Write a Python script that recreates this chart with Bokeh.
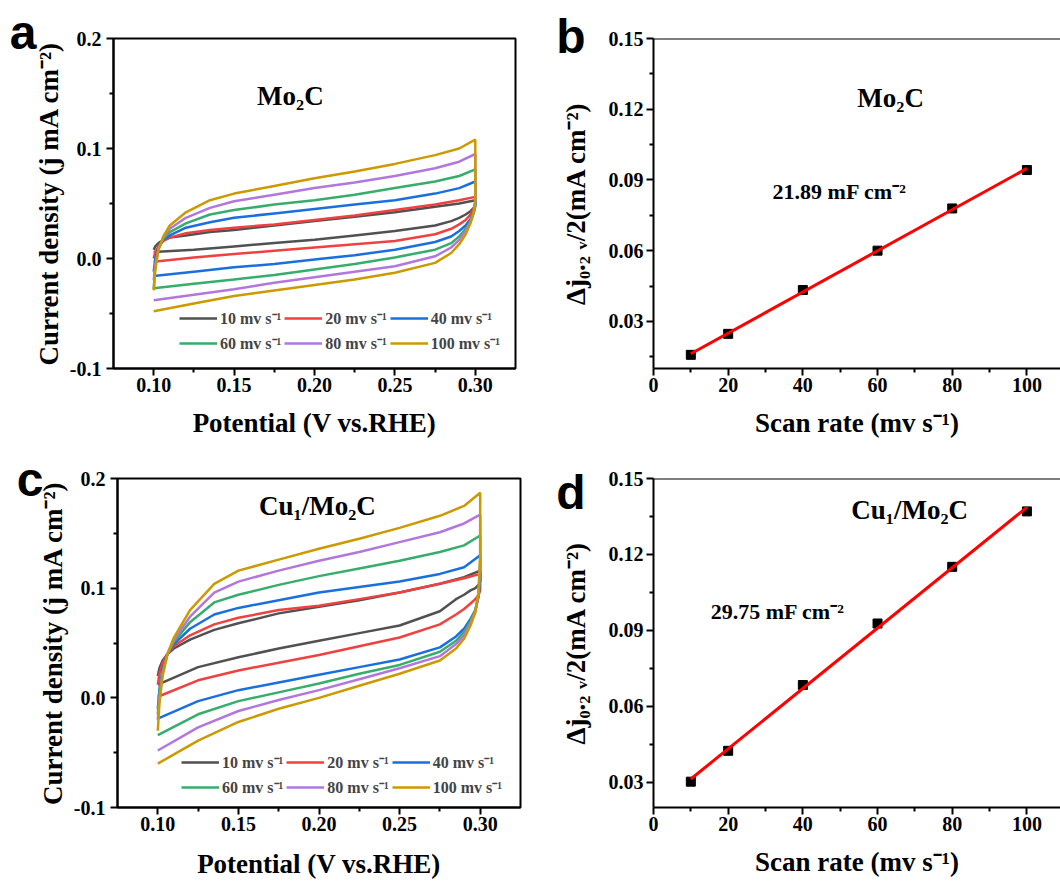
import numpy as np
from bokeh.plotting import figure
from bokeh.layouts import column, row
from bokeh.models import (FixedTicker, PrintfTickFormatter, Label, Span, Legend, LegendItem,
                          LinearAxis, CustomJSTickFormatter)
from bokeh.embed import file_html
from bokeh.resources import INLINE

# ---------------- data ----------------
RATES = [10, 20, 40, 60, 80, 100]
RATE_LABELS = ["10 mv s⁻¹", "20 mv s⁻¹", "40 mv s⁻¹", "60 mv s⁻¹", "80 mv s⁻¹", "100 mv s⁻¹"]
COLORS = ["#515151", "#F14040", "#1A6FDF", "#37AD6B", "#B177DE", "#CC9900"]

# potential grid of the anodic (forward) and cathodic (reverse) sweeps
UP_X = [0.100, 0.101, 0.103, 0.106, 0.110, 0.120, 0.135, 0.150, 0.175, 0.200, 0.225, 0.250, 0.275, 0.290, 0.300]
DN_X = [0.300, 0.299, 0.297, 0.294, 0.290, 0.285, 0.275, 0.250, 0.225, 0.200, 0.175, 0.150, 0.125, 0.100]

# Mo2C CV current densities (one list per scan rate, order of RATES)
MO2C_UP = [
    [0.008, 0.011, 0.014, 0.017, 0.019, 0.021, 0.024, 0.026, 0.030, 0.034, 0.038, 0.042, 0.047, 0.050, 0.053],
    [0.000, 0.006, 0.011, 0.016, 0.019, 0.023, 0.026, 0.028, 0.031, 0.035, 0.039, 0.044, 0.049, 0.053, 0.056],
    [-0.012, 0.000, 0.010, 0.017, 0.021, 0.028, 0.033, 0.037, 0.041, 0.045, 0.049, 0.053, 0.059, 0.064, 0.070],
    [-0.028, -0.006, 0.009, 0.018, 0.024, 0.032, 0.040, 0.044, 0.049, 0.053, 0.058, 0.064, 0.070, 0.075, 0.081],
    [-0.020, -0.006, 0.009, 0.019, 0.027, 0.037, 0.046, 0.052, 0.058, 0.064, 0.069, 0.075, 0.082, 0.088, 0.095],
    [-0.029, -0.010, 0.008, 0.020, 0.030, 0.042, 0.053, 0.059, 0.066, 0.073, 0.079, 0.086, 0.094, 0.100, 0.108],
]
MO2C_DN = [
    [0.050, 0.046, 0.043, 0.040, 0.037, 0.034, 0.030, 0.025, 0.021, 0.017, 0.014, 0.011, 0.008, 0.006],
    [0.050, 0.045, 0.040, 0.035, 0.031, 0.027, 0.022, 0.016, 0.013, 0.010, 0.007, 0.004, 0.001, -0.003],
    [0.048, 0.042, 0.036, 0.030, 0.025, 0.020, 0.015, 0.008, 0.003, -0.001, -0.005, -0.008, -0.012, -0.016],
    [0.048, 0.041, 0.034, 0.027, 0.020, 0.014, 0.008, 0.001, -0.005, -0.010, -0.015, -0.019, -0.023, -0.027],
    [0.050, 0.042, 0.033, 0.025, 0.017, 0.010, 0.002, -0.007, -0.012, -0.017, -0.022, -0.028, -0.033, -0.038],
    [0.055, 0.042, 0.032, 0.022, 0.013, 0.005, -0.004, -0.013, -0.019, -0.024, -0.029, -0.034, -0.041, -0.048],
]

# Cu1/Mo2C CV current densities
CU_UP = [
    [0.020, 0.027, 0.034, 0.040, 0.045, 0.053, 0.062, 0.068, 0.077, 0.083, 0.089, 0.096, 0.104, 0.110, 0.116],
    [0.012, 0.022, 0.032, 0.040, 0.047, 0.057, 0.067, 0.073, 0.080, 0.084, 0.090, 0.096, 0.104, 0.109, 0.113],
    [-0.010, 0.008, 0.026, 0.040, 0.049, 0.063, 0.076, 0.082, 0.089, 0.096, 0.101, 0.106, 0.113, 0.119, 0.130],
    [-0.015, 0.005, 0.024, 0.040, 0.051, 0.069, 0.087, 0.094, 0.103, 0.111, 0.118, 0.125, 0.133, 0.139, 0.148],
    [-0.020, 0.000, 0.022, 0.040, 0.053, 0.074, 0.096, 0.106, 0.116, 0.125, 0.133, 0.142, 0.151, 0.159, 0.167],
    [-0.030, -0.005, 0.020, 0.040, 0.055, 0.080, 0.104, 0.116, 0.126, 0.136, 0.145, 0.155, 0.166, 0.175, 0.187],
]
CU_DN = [
    [0.106, 0.103, 0.100, 0.098, 0.094, 0.090, 0.079, 0.066, 0.059, 0.052, 0.045, 0.037, 0.028, 0.012],
    [0.098, 0.094, 0.090, 0.086, 0.081, 0.076, 0.067, 0.055, 0.047, 0.039, 0.032, 0.025, 0.016, 0.001],
    [0.110, 0.092, 0.080, 0.072, 0.063, 0.056, 0.046, 0.035, 0.028, 0.021, 0.014, 0.007, -0.003, -0.019],
    [0.118, 0.094, 0.080, 0.070, 0.060, 0.052, 0.042, 0.030, 0.022, 0.013, 0.005, -0.003, -0.015, -0.034],
    [0.125, 0.095, 0.079, 0.068, 0.057, 0.049, 0.038, 0.027, 0.017, 0.007, -0.002, -0.012, -0.027, -0.048],
    [0.130, 0.097, 0.078, 0.066, 0.054, 0.045, 0.034, 0.022, 0.011, 0.000, -0.010, -0.022, -0.039, -0.060],
]

# half current-density difference at 0.2 V vs scan rate
MO2C_DJ = [0.0158, 0.0247, 0.0433, 0.0600, 0.0779, 0.0942]
CU_DJ = [0.0302, 0.0424, 0.0684, 0.0927, 0.1151, 0.1370]

CV_X_TICKS = [0.10, 0.15, 0.20, 0.25, 0.30]
CV_X_MINOR = [0.125, 0.175, 0.225, 0.275]
CV_Y_TICKS = [-0.1, 0.0, 0.1, 0.2]
CV_Y_MINOR = [-0.05, 0.05, 0.15]
SR_X_TICKS = [0, 20, 40, 60, 80, 100]
SR_X_MINOR = [10, 30, 50, 70, 90]
SR_Y_TICKS = [0.03, 0.06, 0.09, 0.12, 0.15]
SR_Y_MINOR = [0.015, 0.045, 0.075, 0.105, 0.135]

SERIF = "Liberation Serif"
SANS = "Liberation Sans"


def make_fig(w, h, xr, yr, lb, rb, tb, bb):
    p = figure(width=w, height=h, x_range=xr, y_range=yr, output_backend="svg",
               toolbar_location=None, min_border_left=lb, min_border_right=rb,
               min_border_top=tb, min_border_bottom=bb)
    p.xgrid.visible = False
    p.ygrid.visible = False
    p.background_fill_color = "white"
    p.border_fill_color = "white"
    for ax in (p.xaxis[0], p.yaxis[0]):
        ax.axis_line_width = 2
        ax.axis_line_color = "black"
        ax.major_tick_line_width = 2
        ax.minor_tick_line_width = 2
        ax.major_tick_line_color = "black"
        ax.minor_tick_line_color = "black"
        ax.major_tick_out = 7
        ax.major_tick_in = 0
        ax.minor_tick_out = 4
        ax.minor_tick_in = 0
        ax.major_label_text_font = SERIF
        ax.major_label_text_font_style = "bold"
        ax.major_label_text_font_size = "20px"
        ax.major_label_text_color = "black"
        ax.axis_label_text_font = SERIF
        ax.axis_label_text_font_style = "bold"
        ax.axis_label_text_font_size = "27px"
        ax.axis_label_text_color = "black"
    p.xaxis[0].major_label_standoff = 2
    return p


def add_letter(p, text, tick_y, standoff, line_h):
    # panel letter drawn as the single tick label of an extra, invisible left axis
    ax = LinearAxis(ticker=FixedTicker(ticks=[tick_y], minor_ticks=[]),
                    formatter=CustomJSTickFormatter(args=dict(t=text), code="return t"),
                    axis_line_color=None, major_tick_line_color=None,
                    minor_tick_line_color=None, major_tick_out=0, major_tick_in=0,
                    minor_tick_out=0, minor_tick_in=0, major_label_standoff=standoff,
                    major_label_text_font=SANS, major_label_text_font_style="bold",
                    major_label_text_font_size="48px", major_label_text_color="black",
                    major_label_text_line_height=line_h)
    p.add_layout(ax, "left")


def cv_panel(w, h, lb, rb, tb, bb, ups, dns, name, name_xy, leg_loc, x_title_standoff):
    p = make_fig(w, h, (0.075, 0.325), (-0.1, 0.2), lb, rb, tb, bb)
    p.outline_line_color = "black"
    p.outline_line_width = 2
    p.xaxis[0].ticker = FixedTicker(ticks=CV_X_TICKS, minor_ticks=CV_X_MINOR)
    p.yaxis[0].ticker = FixedTicker(ticks=CV_Y_TICKS, minor_ticks=CV_Y_MINOR)
    p.xaxis[0].formatter = PrintfTickFormatter(format="%.2f")
    p.yaxis[0].formatter = PrintfTickFormatter(format="%.1f")
    p.xaxis[0].axis_label_standoff = x_title_standoff
    p.yaxis[0].major_label_standoff = 5
    p.yaxis[0].axis_label_standoff = 3
    p.xaxis[0].axis_label = "Potential (V vs.RHE)"
    p.yaxis[0].axis_label = "Current density (j mA cm⁻²)"
    items = []
    for up, dn, col, lab in zip(ups, dns, COLORS, RATE_LABELS):
        r = p.line(UP_X + DN_X, up + dn, line_color=col, line_width=2.5)
        items.append(LegendItem(label=lab, renderers=[r]))
    leg = Legend(items=items, location=leg_loc, orientation="horizontal", nrows=2,
                 label_text_font=SERIF, label_text_font_style="bold", label_text_font_size="16px",
                 glyph_width=38, glyph_height=20, label_height=20, label_standoff=3,
                 spacing=3, padding=2, margin=0, border_line_color=None,
                 background_fill_alpha=0)
    p.add_layout(leg)
    p.add_layout(Label(x=name_xy[0], y=name_xy[1], text=name, text_font=SERIF,
                       text_font_style="bold", text_font_size="27px", text_align="center",
                       text_baseline="middle", text_color="black"))
    return p


def sr_panel(w, h, lb, rb, tb, bb, ylo, dj, name, name_xy, cap, cap_xy, x_title_standoff):
    p = make_fig(w, h, (0, 109), (ylo, 0.15), lb, rb, tb, bb)
    p.outline_line_color = None
    p.add_layout(Span(location=0.15, dimension="width", line_color="black", line_width=2))
    p.xaxis[0].ticker = FixedTicker(ticks=SR_X_TICKS, minor_ticks=SR_X_MINOR)
    p.yaxis[0].ticker = FixedTicker(ticks=SR_Y_TICKS, minor_ticks=SR_Y_MINOR)
    p.xaxis[0].formatter = PrintfTickFormatter(format="%d")
    p.yaxis[0].formatter = PrintfTickFormatter(format="%.2f")
    p.xaxis[0].axis_label_standoff = x_title_standoff
    p.yaxis[0].major_label_standoff = 3
    p.yaxis[0].axis_label_standoff = 15
    p.xaxis[0].axis_label = "Scan rate (mv s⁻¹)"
    p.yaxis[0].axis_label = "Δj₀.₂ ᵥ/2(mA cm⁻²)"
    p.scatter(RATES, dj, marker="square", size=9, color="black")
    k, b = np.polyfit(RATES, dj, 1)
    fx = [RATES[0], RATES[-1]]
    p.line(fx, [k * fx[0] + b, k * fx[1] + b], line_color="#FF0000", line_width=3)
    p.add_layout(Label(x=name_xy[0], y=name_xy[1], text=name, text_font=SERIF,
                       text_font_style="bold", text_font_size="27px", text_align="center",
                       text_baseline="middle", text_color="black"))
    p.add_layout(Label(x=cap_xy[0], y=cap_xy[1], text=cap, text_font=SERIF,
                       text_font_style="bold", text_font_size="22px", text_align="left",
                       text_baseline="middle", text_color="black"))
    return p


pa = cv_panel(533, 440, 113, 18, 33, 72, MO2C_UP, MO2C_DN, "Mo₂C", (0.185, 0.148), (66, 14), 13)
add_letter(pa, "a\n\u00a0", 0.2, -6, 0.22)
pb = sr_panel(527, 440, 120, 0, 38, 69, 0.01, MO2C_DJ, "Mo₂C", (63.5, 0.1248),
              "21.89 mF cm⁻²", (31.9, 0.0853), 13)
add_letter(pb, "b\n\u00a0", 0.15, -28, 0.8)
pc = cv_panel(533, 441, 117, 13, 35, 72, CU_UP, CU_DN, "Cu₁/Mo₂C", (0.199, 0.175), (64, 9), 15)
add_letter(pc, "c\n\u00a0", 0.2, -9, 0.92)
pd = sr_panel(527, 441, 120, 0, 38, 71, 0.02, CU_DJ, "Cu₁/Mo₂C", (68.6, 0.1375),
              "29.75 mF cm⁻²", (15.3, 0.0975), 13)
add_letter(pd, "d\n\u00a0", 0.15, -28, 1.4)

layout = column(row(pa, pb, spacing=0), row(pc, pd, spacing=0), spacing=0)

with open("out.html", "w") as f:
    f.write(file_html(layout, INLINE))
